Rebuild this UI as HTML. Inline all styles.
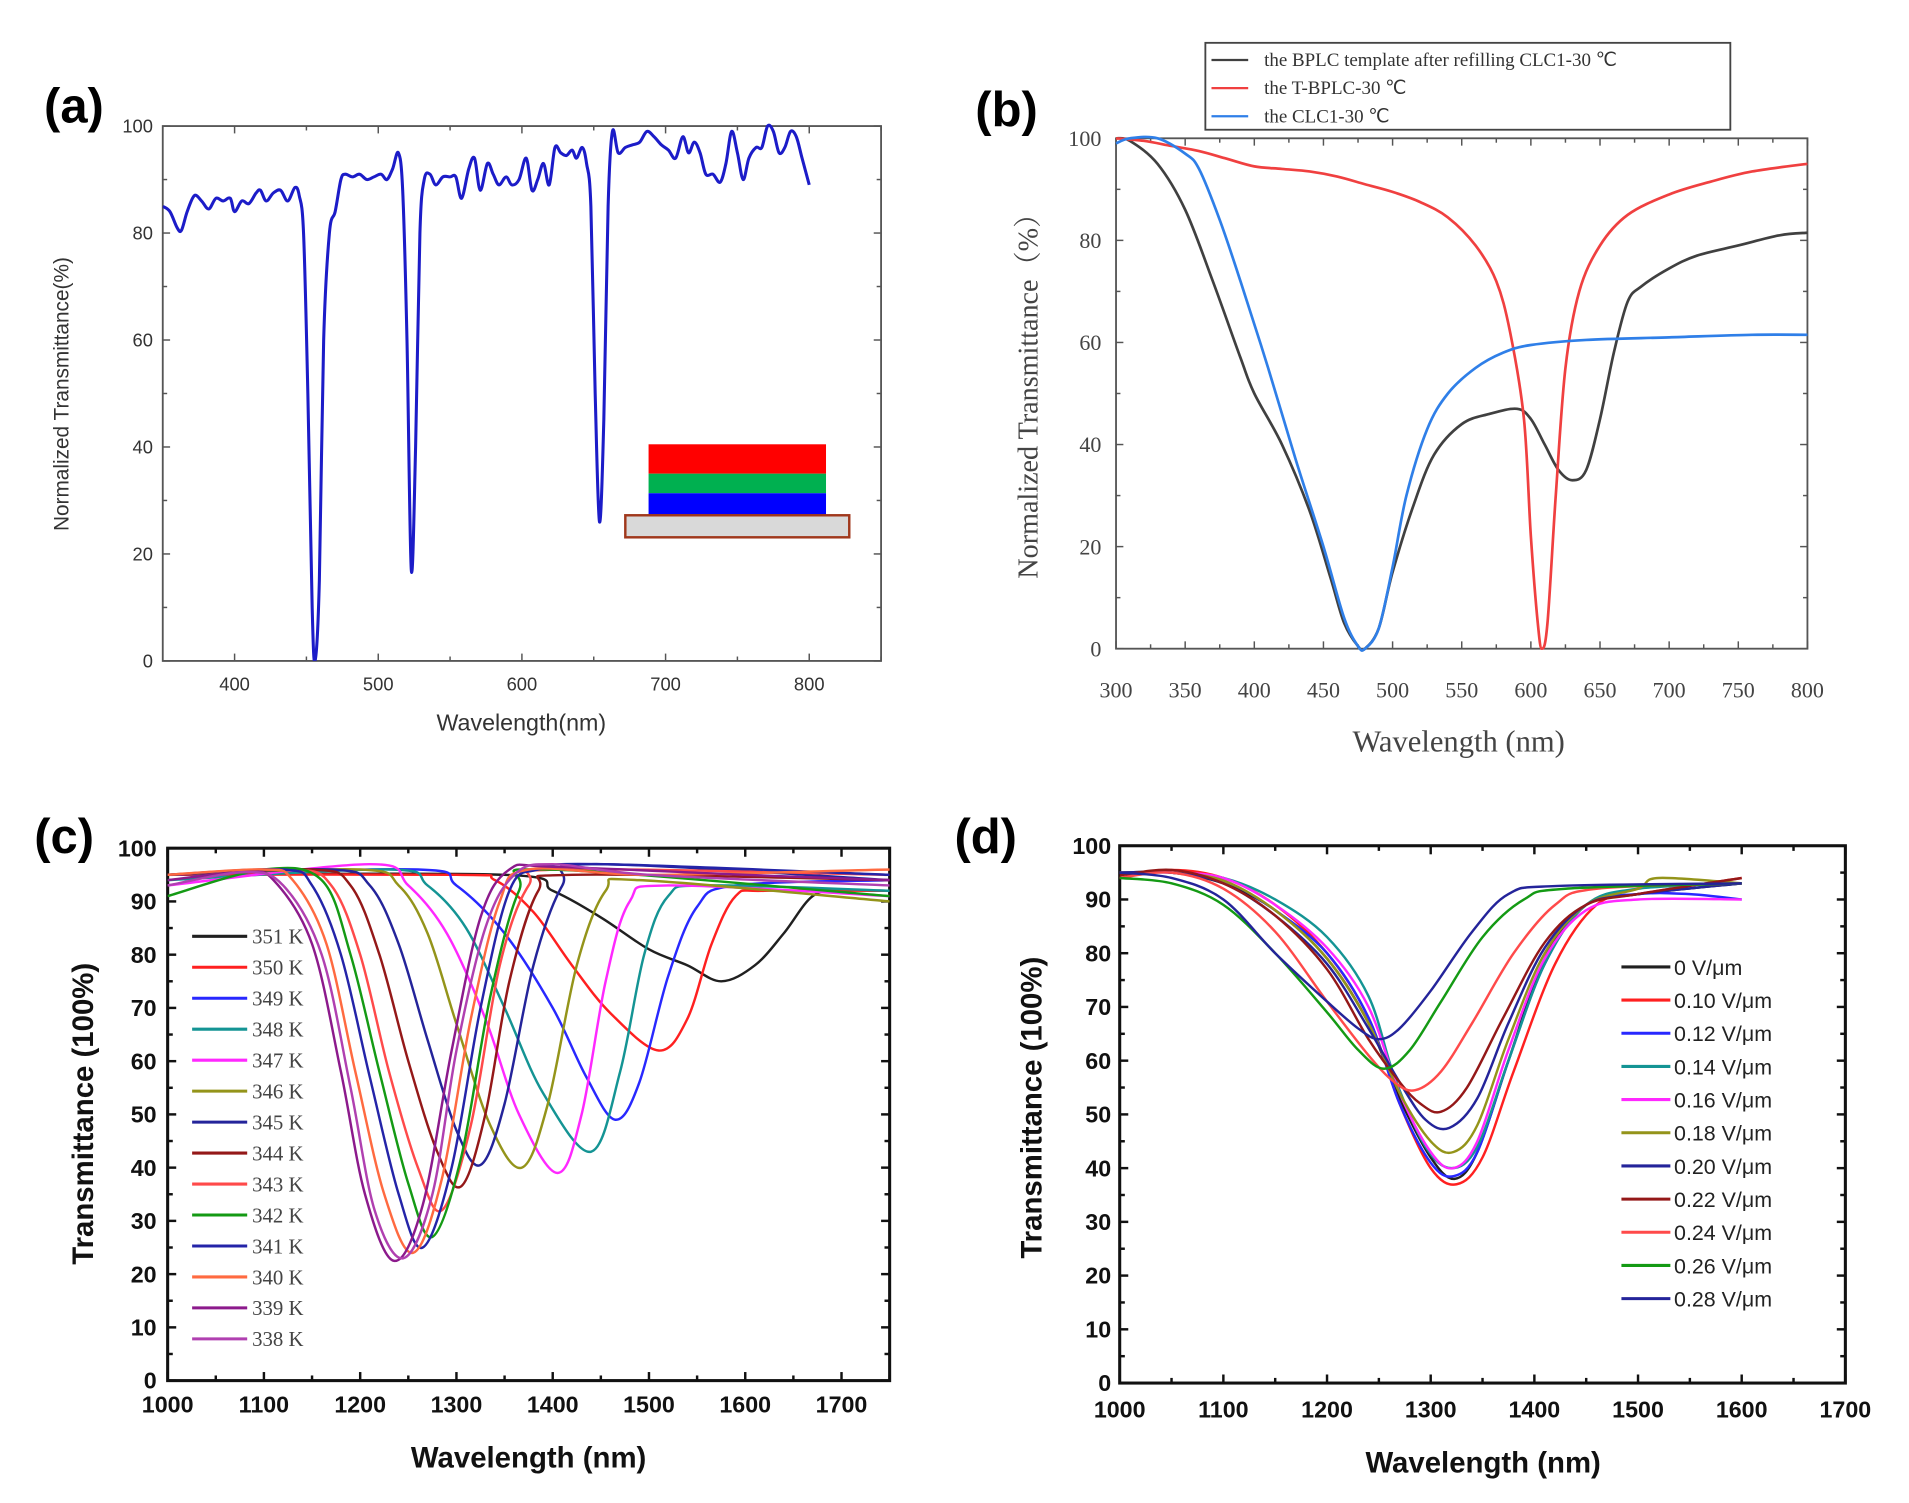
<!DOCTYPE html>
<html><head><meta charset="utf-8"><style>
html,body{margin:0;padding:0;background:#fff;}
svg{display:block;}
</style></head><body>
<svg id="fig" width="1909" height="1503" viewBox="0 0 1560 1228" preserveAspectRatio="none" xmlns="http://www.w3.org/2000/svg">
<rect width="1560" height="1228" fill="#fff"/>
<g id="pa"></g>
<g id="pb"></g>
<g id="pc"></g>
<g id="pd"></g>
</svg>
<script>
// ---------- Panel (a) data ----------
const aSeries = [[350,85],[355,84],[360,81],[363,80.5],[367,84],[372,87],[377,86],[382,84.5],[387,86.5],[392,86],[397,86.5],[400,84],[405,86],[410,85.5],[415,87.5],[418,88],[422,86],[427,87.5],[432,88],[437,86],[442,88.5],[445,87],[448,80],[451,50],[454,10],[456,0],[459,15],[462,60],[466,80],[470,84],[474,90],[477,91],[482,90.5],[487,91],[492,90],[497,90.5],[502,91],[506,90],[510,92],[514,95],[517,88],[520,60],[523,17],[526,40],[529,80],[532,90],[536,91],[540,89],[545,90.5],[550,90.5],[554,90.5],[558,86.5],[563,92],[567,94],[571,88],[576,93],[580,91],[584,89],[589,90.5],[593,89],[598,90],[603,94],[607,88],[611,90],[615,93],[619,89],[623,96],[627,95],[631,94.5],[635,95.5],[638,94],[642,96],[645,93],[648,85],[651,50],[654,26],[657,45],[660,85],[663,99],[667,95],[672,96],[677,96.5],[682,97],[687,99],[692,98],[697,96.5],[702,95.5],[707,94],[712,98],[716,95],[720,97],[724,95],[728,91],[733,91],[738,89.5],[742,93],[746,99],[750,95],[754,90],[758,94],[763,96],[767,96],[771,100],[775,99],[779,95],[783,96],[787,99],[791,98],[795,94],[800,89]];
const aXTicks = [400,500,600,700,800];
const aYTicks = [0,20,40,60,80,100];

// ---------- Panel (b) data ----------
const bNames = ["the BPLC template after refilling CLC1-30 \u2103","the T-BPLC-30 \u2103","the CLC1-30 \u2103"];
const bColors = ["#404040","#f04040","#2f7fe8"];
const bBlack = [[300,100],[310,99.5],[330,95],[350,86],[370,72],[390,57],[400,50],[420,40],[440,27],[455,14],[465,5],[475,0.5],[480,0],[490,4],[500,15],[515,28],[530,38],[550,44],[570,46],[590,47],[600,45],[610,40],[620,35],[630,33],[640,35],[650,45],[660,58],[670,68],[680,71],[700,74.5],[720,77],[750,79],[780,81],[800,81.5]];
const bRed = [[300,100],[320,99.5],[340,98.5],[360,97.5],[380,96],[400,94.5],[420,94],[440,93.5],[460,92.5],[480,91],[500,89.5],[520,87.5],[540,84.5],[560,79],[575,72],[585,62],[595,45],[600,22],[605,5],[608,0],[612,5],[618,30],[625,55],[635,70],[650,79],[670,85],[700,89],[730,91.5],[760,93.5],[800,95]];
const bBlue = [[300,99],[310,100],[330,100],[350,97],[360,94],[375,84],[390,72],[410,55],[430,37],[450,20],[465,6],[475,0.5],[480,0],[490,4],[500,16],[510,30],[525,43],[540,50],[560,55],[580,58],[600,59.5],[640,60.5],[700,61],[760,61.5],[800,61.5]];
const bXTicks = [300,350,400,450,500,550,600,650,700,750,800];
const bYTicks = [0,20,40,60,80,100];

// ---------- Panel (c) data ----------
const cNames = ["351 K","350 K","349 K","348 K","347 K","346 K","345 K","344 K","343 K","342 K","341 K","340 K","339 K","338 K"];
const cColors = ["#202020","#ff2020","#2828ff","#149494","#ff28ff","#94941a","#24249a","#941818","#ff4a4a","#149a14","#2424a8","#ff6a40","#8c1a8c","#b040b0"];
const c351 = [[1000,95],[1350,95],[1400,92],[1450,87],[1500,81],[1540,78],[1575,75],[1610,78],[1640,84],[1670,91],[1700,92],[1750,92]];
const c350 = [[1000,95],[1300,95],[1340,94],[1380,88],[1420,78],[1460,69],[1510,62],[1540,68],[1565,82],[1590,91],[1620,92],[1750,92]];
const c349 = [[1000,95],[1260,96],[1300,93],[1350,84],[1400,70],[1435,57],[1465,49],[1490,56],[1520,76],[1550,89],[1590,93],[1750,94]];
const c348 = [[1000,94],[1230,96],[1270,93],[1310,85],[1350,70],[1390,54],[1440,43],[1470,58],[1495,80],[1520,91],[1560,93],[1750,92]];
const c347 = [[1000,93],[1210,97],[1250,93],[1290,84],[1330,68],[1365,50],[1405,39],[1430,50],[1455,75],[1480,90],[1520,93],[1750,91]];
const c346 = [[1000,95],[1200,96],[1240,93],[1270,84],[1300,67],[1335,48],[1368,40],[1395,52],[1425,78],[1455,92],[1490,94],[1750,90]];
const c345 = [[1000,95],[1170,96],[1210,93],[1240,82],[1270,64],[1300,47],[1325,40.5],[1350,52],[1380,78],[1410,93],[1440,97],[1750,94]];
const c344 = [[1000,95],[1150,96],[1190,93],[1220,80],[1250,60],[1280,43],[1305,36.5],[1330,50],[1355,75],[1385,92],[1420,95],[1750,94]];
const c343 = [[1000,95],[1130,96],[1170,93],[1200,80],[1230,58],[1260,40],[1285,32],[1315,48],[1345,78],[1375,93],[1410,96],[1750,95]];
const c342 = [[1000,91],[1100,96],[1160,94],[1190,80],[1220,58],[1250,37],[1275,27],[1305,42],[1335,72],[1365,92],[1395,96],[1750,91]];
const c341 = [[1000,95],[1120,96],[1150,93],[1180,80],[1210,57],[1240,35],[1265,25],[1295,40],[1325,70],[1355,92],[1385,96],[1450,97],[1750,95]];
const c340 = [[1000,95],[1100,96],[1130,94],[1165,82],[1195,58],[1225,35],[1255,24],[1285,38],[1315,68],[1345,90],[1375,96],[1500,95],[1750,96]];
const c339 = [[1000,94],[1080,95.5],[1110,94],[1150,82],[1180,58],[1205,35],[1235,22.5],[1265,33],[1295,62],[1325,87],[1355,96],[1400,96.5],[1600,95],[1750,94]];
const c338 = [[1000,93],[1080,95.5],[1120,93],[1160,80],[1190,55],[1215,32],[1245,23],[1275,35],[1300,62],[1330,85],[1360,95],[1400,97],[1500,95],[1750,93]];
const cXTicks = [1000,1100,1200,1300,1400,1500,1600,1700];
const cYTicks = [0,10,20,30,40,50,60,70,80,90,100];

// ---------- Panel (d) data ----------
const dNames = ["0       V/\u03bcm","0.10 V/\u03bcm","0.12 V/\u03bcm","0.14 V/\u03bcm","0.16 V/\u03bcm","0.18 V/\u03bcm","0.20 V/\u03bcm","0.22 V/\u03bcm","0.24 V/\u03bcm","0.26 V/\u03bcm","0.28 V/\u03bcm"];
const dColors = ["#202020","#ff2020","#2828ff","#149494","#ff28ff","#94941a","#24249a","#941818","#ff4a4a","#149a14","#24249a"];
const d0 = [[1000,95],[1050,95],[1100,93],[1150,88],[1200,79],[1240,67],[1270,53],[1300,42],[1323,38],[1345,43],[1375,60],[1410,79],[1450,89],[1500,91],[1600,93]];
const d10 = [[1000,94],[1050,95.5],[1100,94],[1150,89],[1200,80],[1240,68],[1270,52],[1300,40],[1325,37],[1350,42],[1380,58],[1420,78],[1460,89],[1500,91],[1600,94]];
const d12 = [[1000,95],[1050,95],[1100,93.5],[1150,88],[1200,80],[1240,68],[1270,52],[1300,41],[1322,38.5],[1345,43],[1375,60],[1410,78],[1450,89],[1500,91],[1550,91],[1600,90]];
const d14 = [[1000,95],[1050,95],[1100,94],[1150,90],[1200,83],[1240,72],[1265,57],[1295,44],[1320,40],[1345,44],[1375,60],[1410,78],[1450,89],[1500,92],[1600,93]];
const d16 = [[1000,95],[1050,95],[1100,94],[1150,89],[1200,81],[1240,70],[1270,54],[1300,43],[1322,40],[1345,45],[1375,62],[1410,79],[1450,88],[1500,90],[1600,90]];
const d18 = [[1000,95],[1050,95],[1100,93.5],[1150,88],[1200,79],[1240,67],[1270,54],[1300,45],[1322,43],[1345,48],[1375,64],[1410,80],[1450,89],[1500,92],[1520,94],[1600,93]];
const d20 = [[1000,95],[1050,95],[1100,93],[1150,87],[1200,78],[1240,66],[1270,56],[1295,49],[1318,47.5],[1345,53],[1375,67],[1410,81],[1450,89],[1500,91],[1600,93]];
const d22 = [[1000,94.5],[1050,95.5],[1100,93],[1150,87],[1200,77],[1240,64],[1270,56],[1290,52],[1310,50.5],[1335,55],[1370,68],[1410,82],[1450,89],[1500,91],[1600,94]];
const d24 = [[1000,94],[1050,95],[1100,92],[1150,84],[1200,71],[1240,61],[1265,56],[1285,54.5],[1310,58],[1340,67],[1380,80],[1420,89],[1460,92],[1600,93]];
const d26 = [[1000,94],[1050,93],[1100,89],[1150,80],[1200,69],[1230,62],[1255,58.5],[1280,62],[1310,71],[1350,83],[1390,90],[1430,92],[1600,93]];
const d28 = [[1000,95],[1050,94],[1100,90],[1150,80],[1200,71],[1230,66],[1250,64],[1270,66],[1300,73],[1340,84],[1375,91],[1420,92.5],[1600,93]];
const dXTicks = [1000,1100,1200,1300,1400,1500,1600,1700];
const dYTicks = [0,10,20,30,40,50,60,70,80,90,100];

const NS = "http://www.w3.org/2000/svg";
function mk(parent, tag, attrs, text){
  const e = document.createElementNS(NS, tag);
  for (const k in attrs) e.setAttribute(k, attrs[k]);
  if (text !== undefined) e.textContent = text;
  parent.appendChild(e);
  return e;
}
function axis(d0,d1,r0,r1){ return v => r0 + (v-d0)/(d1-d0)*(r1-r0); }
function smoothPath(pts, sx, sy){
  const P = pts.map(p=>[sx(p[0]), sy(p[1])]);
  let d = "M"+P[0][0].toFixed(2)+","+P[0][1].toFixed(2);
  for (let i=0;i<P.length-1;i++){
    const p0=P[Math.max(0,i-1)], p1=P[i], p2=P[i+1], p3=P[Math.min(P.length-1,i+2)];
    const c1=[p1[0]+(p2[0]-p0[0])/6, p1[1]+(p2[1]-p0[1])/6];
    const c2=[p2[0]-(p3[0]-p1[0])/6, p2[1]-(p3[1]-p1[1])/6];
    d += " C"+c1[0].toFixed(2)+","+c1[1].toFixed(2)+" "+c2[0].toFixed(2)+","+c2[1].toFixed(2)+" "+p2[0].toFixed(2)+","+p2[1].toFixed(2);
  }
  return d;
}
function frame(g, box, xd, yd, opt){
  const sx = axis(xd[0],xd[1],box.l,box.r), sy = axis(yd[0],yd[1],box.b,box.t);
  const fr = mk(g,"rect",{x:box.l,y:box.t,width:box.r-box.l,height:box.b-box.t,fill:"none",stroke:opt.axc,"stroke-width":opt.aw});
  
  
  const tg = mk(g,"g",{stroke:opt.axc,"stroke-width":opt.tw});
  
  
  const L = opt.tl;
  for (let v=xd[0]; v<=xd[1]+1e-6; v+=opt.xminor){
    const x=sx(v); const major = opt.xt.includes(Math.round(v));
    const len = major?L:L*0.6;
    mk(tg,"line",{x1:x,y1:box.b,x2:x,y2:box.b-len});
    if (opt.mirror) mk(tg,"line",{x1:x,y1:box.t,x2:x,y2:box.t+len});
  }
  for (let v=yd[0]; v<=yd[1]+1e-6; v+=opt.yminor){
    const y=sy(v); const major = opt.yt.includes(Math.round(v));
    const len = major?L:L*0.6;
    mk(tg,"line",{x1:box.l,y1:y,x2:box.l+len,y2:y});
    if (opt.mirror) mk(tg,"line",{x1:box.r,y1:y,x2:box.r-len,y2:y});
  }
  const lg = mk(g,"g",{"font-family":opt.font,"font-size":opt.fs,"font-weight":opt.fw,fill:opt.tc});
  
  
  opt.xt.forEach(v=>{
    const t = mk(lg,"text",{x:sx(v),y:box.b+opt.xoff,"text-anchor":"middle"},String(v));
    
    
  });
  opt.yt.forEach(v=>{
    const t = mk(lg,"text",{x:box.l-opt.yoff,y:sy(v)+opt.fs*0.35,"text-anchor":"end"},String(v));
    
    
  });
  return {sx,sy};
}
function line(g, pts, sc, color, w, name){
  const p = mk(g,"path",{d:smoothPath(pts,sc.sx,sc.sy),fill:"none",stroke:color,"stroke-width":w,"stroke-linejoin":"round"});
  
  
  return p;
}

// ===== Panel a =====
(function(){
  const g = document.getElementById('pa');
  const box={l:133,r:720,t:103,b:540};
  const sc = frame(g, box, [350,850],[0,100], {axc:"#555",aw:1.5,tw:1.2,tl:6,xminor:50,yminor:10,xt:aXTicks,yt:aYTicks,mirror:true,font:"Liberation Sans, sans-serif",fs:15,fw:"normal",tc:"#333",xoff:24,yoff:8});
  const clip = mk(g,"clipPath",{id:"ca"}); mk(clip,"rect",{x:box.l,y:box.t-3,width:box.r-box.l,height:box.b-box.t+3});
  const lg = mk(g,"g",{"clip-path":"url(#ca)"});
  line(lg, aSeries, sc, "#1c1cc8", 2.5, "transmittance-line");
  const ins = mk(g,"g",{});
  
  
  mk(ins,"rect",{x:530,y:363,width:145,height:24,fill:"#ff0000"});
  mk(ins,"rect",{x:530,y:387,width:145,height:16,fill:"#00b050"});
  mk(ins,"rect",{x:530,y:403,width:145,height:18,fill:"#0000ff"});
  mk(ins,"rect",{x:511,y:421,width:183,height:18,fill:"#d9d9d9",stroke:"#a0381c","stroke-width":2});
  let t=mk(g,"text",{x:36,y:100,"font-family":"Liberation Sans, sans-serif","font-size":40,"font-weight":"bold"},"(a)");
   
  t=mk(g,"text",{x:56,y:322,"font-family":"Liberation Sans, sans-serif","font-size":17,fill:"#333","text-anchor":"middle",transform:"rotate(-90 56 322)"},"Normalized Transmittance(%)");
   
  t=mk(g,"text",{x:426,y:597,"font-family":"Liberation Sans, sans-serif","font-size":19,fill:"#333","text-anchor":"middle"},"Wavelength(nm)");
   
})();

// ===== Panel b =====
(function(){
  const g = document.getElementById('pb');
  const box={l:912,r:1477,t:113,b:530};
  const sc = frame(g, box, [300,800],[0,100], {axc:"#555",aw:1.5,tw:1.2,tl:6,xminor:25,yminor:10,xt:bXTicks,yt:bYTicks,mirror:true,font:"Liberation Serif, serif",fs:18,fw:"normal",tc:"#444",xoff:40,yoff:12});
  const series=[bBlack,bRed,bBlue];
  series.forEach((s,i)=>line(g, s, sc, bColors[i], 2.2, "series-"+i));
  const lb = mk(g,"g",{});
  
  
  mk(lb,"rect",{x:985,y:35,width:429,height:71,fill:"#fff",stroke:"#444","stroke-width":1.5});
  bNames.forEach((n,i)=>{
    const y=49+i*23;
    mk(lb,"line",{x1:990,y1:y,x2:1020,y2:y,stroke:bColors[i],"stroke-width":1.8});
    const t=mk(lb,"text",{x:1033,y:y+5,"font-family":"Liberation Serif, serif","font-size":15.5,fill:"#333"},n);
     
  });
  let t=mk(g,"text",{x:797,y:103,"font-family":"Liberation Sans, sans-serif","font-size":40,"font-weight":"bold"},"(b)");
   
  t=mk(g,"text",{x:848,y:318,"font-family":"Liberation Serif, Noto Serif CJK SC, serif","font-size":23,fill:"#444","text-anchor":"middle",transform:"rotate(-90 848 318)"},"Normalized Transmittance（%）");
   
  t=mk(g,"text",{x:1192,y:614,"font-family":"Liberation Serif, serif","font-size":25,fill:"#444","text-anchor":"middle"},"Wavelength (nm)");
   
})();

// ===== Panel c =====
(function(){
  const g = document.getElementById('pc');
  const box={l:137,r:727,t:693,b:1128};
  const sc = frame(g, box, [1000,1750],[0,100], {axc:"#111",aw:2.5,tw:2,tl:7,xminor:50,yminor:5,xt:cXTicks,yt:cYTicks,mirror:true,font:"Liberation Sans, sans-serif",fs:19,fw:"bold",tc:"#111",xoff:26,yoff:9});
  const series=[c351,c350,c349,c348,c347,c346,c345,c344,c343,c342,c341,c340,c339,c338];
  const clip = mk(g,"clipPath",{id:"cc"}); mk(clip,"rect",{x:box.l,y:box.t,width:box.r-box.l,height:box.b-box.t});
  const lg = mk(g,"g",{"clip-path":"url(#cc)"});
  series.forEach((s,i)=>line(lg, s, sc, cColors[i], 2, "series-"+cNames[i].replace(' ','').toLowerCase()));
  const lb = mk(g,"g",{});
  
  
  cNames.forEach((n,i)=>{
    const y=765+i*25.3;
    mk(lb,"line",{x1:157,y1:y,x2:202,y2:y,stroke:cColors[i],"stroke-width":2.5});
    const t=mk(lb,"text",{x:206,y:y+6,"font-family":"Liberation Serif, serif","font-size":17,fill:"#444"},n);
     
  });
  let t=mk(g,"text",{x:28,y:697,"font-family":"Liberation Sans, sans-serif","font-size":40,"font-weight":"bold"},"(c)");
   
  t=mk(g,"text",{x:76,y:910,"font-family":"Liberation Sans, sans-serif","font-size":24,"font-weight":"bold",fill:"#111","text-anchor":"middle",transform:"rotate(-90 76 910)"},"Transmittance (100%)");
   
  t=mk(g,"text",{x:432,y:1199,"font-family":"Liberation Sans, sans-serif","font-size":24,"font-weight":"bold",fill:"#111","text-anchor":"middle"},"Wavelength (nm)");
   
})();

// ===== Panel d =====
(function(){
  const g = document.getElementById('pd');
  const box={l:915,r:1508,t:691,b:1130};
  const sc = frame(g, box, [1000,1700],[0,100], {axc:"#111",aw:2.5,tw:2,tl:7,xminor:50,yminor:5,xt:dXTicks,yt:dYTicks,mirror:true,font:"Liberation Sans, sans-serif",fs:19,fw:"bold",tc:"#111",xoff:28,yoff:7});
  const series=[d0,d10,d12,d14,d16,d18,d20,d22,d24,d26,d28];
  series.forEach((s,i)=>line(g, s, sc, dColors[i], 2, "series-"+i));
  const lb = mk(g,"g",{});
  
  
  dNames.forEach((n,i)=>{
    const y=790+i*27.1;
    mk(lb,"line",{x1:1325,y1:y,x2:1365,y2:y,stroke:dColors[i],"stroke-width":2.5});
    const t=mk(lb,"text",{x:1368,y:y+6.5,"font-family":"Liberation Sans, sans-serif","font-size":17.5,fill:"#222","xml:space":"preserve"},n);
     
  });
  let t=mk(g,"text",{x:780,y:697,"font-family":"Liberation Sans, sans-serif","font-size":40,"font-weight":"bold"},"(d)");
   
  t=mk(g,"text",{x:851,y:905,"font-family":"Liberation Sans, sans-serif","font-size":24,"font-weight":"bold",fill:"#111","text-anchor":"middle",transform:"rotate(-90 851 905)"},"Transmittance (100%)");
   
  t=mk(g,"text",{x:1212,y:1203,"font-family":"Liberation Sans, sans-serif","font-size":24,"font-weight":"bold",fill:"#111","text-anchor":"middle"},"Wavelength (nm)");
   
})();
</script>
</body></html>
